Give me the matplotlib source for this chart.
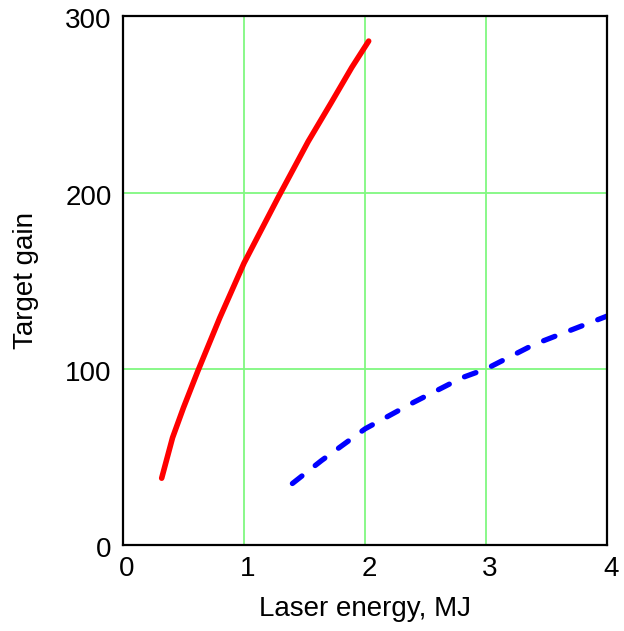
import matplotlib.pyplot as plt
from matplotlib.transforms import ScaledTranslation

plt.rcParams['font.family'] = ['Liberation Sans', 'DejaVu Sans']

# red solid curve
red_energy = [0.32, 0.41, 0.50, 0.62, 0.80, 1.00, 1.28, 1.53, 1.72, 1.89, 2.03]
red_gain = [38, 61, 78, 99, 129, 160, 197, 229, 251, 271, 286]

# blue dashed curve
blue_energy = [1.40, 1.64, 2.00, 2.40, 2.80, 3.00, 3.40, 4.00]
blue_gain = [35, 48, 66, 81, 95, 100, 114, 130]

xticks = [0, 1, 2, 3, 4]
yticks = [0, 100, 200, 300]

fig = plt.figure(figsize=(6.24, 6.31), dpi=100)
ax = fig.add_axes([0.197, 0.136, 0.776, 0.838])

ax.plot(red_energy, red_gain, color='#ff0000', lw=4, solid_capstyle='round',
        solid_joinstyle='round')
ax.plot(blue_energy, blue_gain, color='#0000ff', lw=3.8, dashes=(2.3, 3.2),
        dash_capstyle='round')

ax.set_xlim(0, 4)
ax.set_ylim(0, 300)
ax.set_xticks(xticks)
ax.set_yticks(yticks)
ax.grid(True, color='#80f880', lw=1.3)
ax.set_axisbelow(True)
ax.tick_params(length=0, labelsize=20, pad=8)
for s in ax.spines.values():
    s.set_linewidth(1.6)
    s.set_color('black')

# labels sit a bit right of / below their gridlines in the original
shift_x = ScaledTranslation(4 / 100, 0, fig.dpi_scale_trans)
for lbl in ax.get_xticklabels():
    lbl.set_transform(lbl.get_transform() + shift_x)
shift_y = ScaledTranslation(0, -2 / 100, fig.dpi_scale_trans)
for lbl in ax.get_yticklabels():
    lbl.set_transform(lbl.get_transform() + shift_y)

ax.set_xlabel('Laser energy, MJ', fontsize=20, labelpad=10)
ax.set_ylabel('Target gain', fontsize=20, labelpad=19)

fig.savefig('out.png', dpi=100)
